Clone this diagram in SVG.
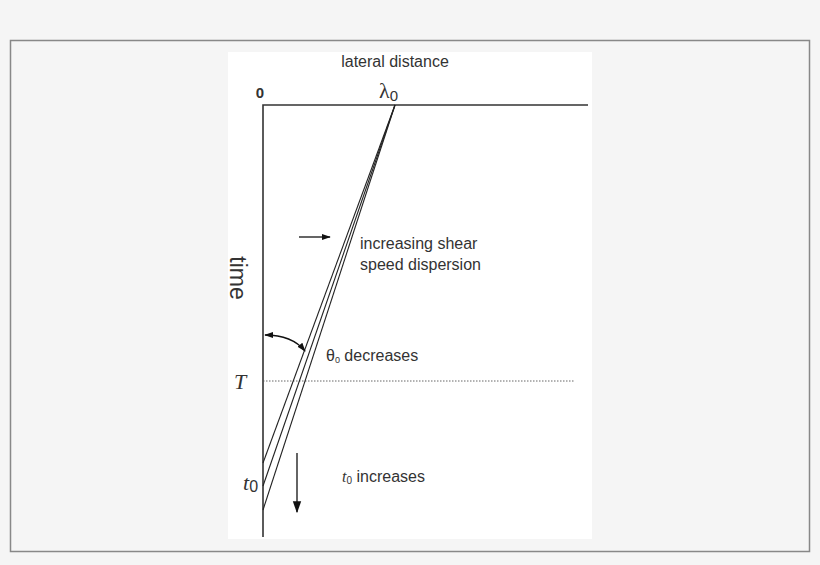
<svg xmlns="http://www.w3.org/2000/svg" width="820" height="565" viewBox="0 0 820 565">
<style>
.ax{stroke:#333;stroke-width:1.6;fill:none}
.ln{stroke:#222;stroke-width:1.1;fill:none}
.sans{font-family:"Liberation Sans",Arial,sans-serif;fill:#333}
.serif{font-family:"Liberation Serif","Times New Roman",serif;fill:#333}
</style>
<defs>
<marker id="ah" viewBox="0 0 10 10" refX="9" refY="5" markerWidth="9" markerHeight="9" orient="auto-start-reverse" markerUnits="userSpaceOnUse">
<path d="M0,1.5 L10,5 L0,8.5 Z" fill="#111"/>
</marker>
<marker id="ahl" viewBox="0 0 10 10" refX="9" refY="5" markerWidth="12" markerHeight="12" orient="auto" markerUnits="userSpaceOnUse">
<path d="M0,1.5 L10,5 L0,8.5 Z" fill="#111"/>
</marker>
</defs>
<rect x="0" y="0" width="820" height="565" fill="#f5f5f5"/>
<rect x="10.5" y="40.5" width="799" height="511" fill="#f5f5f5" stroke="#888" stroke-width="1.5"/>
<rect x="228" y="52" width="364" height="487" fill="#fff"/>
<g id="axes">
<path class="ax" d="M263,537 L263,105 L588,105"/>
<line x1="263" y1="381" x2="575" y2="381" stroke="#555" stroke-width="0.9" stroke-dasharray="1.5,1.5"/>
</g>
<g id="connectors">
<line class="ln" x1="395" y1="105" x2="263" y2="463"/>
<line class="ln" x1="395" y1="105" x2="263" y2="486"/>
<line class="ln" x1="395" y1="105" x2="263" y2="510"/>
<line x1="299" y1="237" x2="330" y2="237" stroke="#111" stroke-width="1.3" marker-end="url(#ah)"/>
<path d="M265,335 Q292,335 305,351" stroke="#111" stroke-width="1.3" fill="none" marker-start="url(#ah)" marker-end="url(#ah)"/>
<line x1="297" y1="453" x2="297" y2="512" stroke="#111" stroke-width="1.3" marker-end="url(#ahl)"/>
</g>
<g id="labels">
<text class="sans" x="395" y="67" font-size="16" text-anchor="middle">lateral distance</text>
<text class="sans" x="260" y="98" font-size="15" font-weight="bold" text-anchor="middle">0</text>
<text class="serif" x="379" y="98" font-size="22">λ<tspan class="sans" font-size="15" dy="3">0</tspan></text>
<text class="sans" x="230" y="278" font-size="23" text-anchor="middle" transform="rotate(90 230 278)">time</text>
<text class="serif" x="240" y="389" font-size="22" font-style="italic" text-anchor="middle">T</text>
<text class="serif" x="243" y="490" font-size="22" font-style="italic">t<tspan class="sans" font-style="normal" font-size="16" dy="2">0</tspan></text>
<text class="sans" x="360" y="249" font-size="16">increasing shear</text>
<text class="sans" x="360" y="270" font-size="16">speed dispersion</text>
<text class="sans" x="326" y="361" font-size="16">θ<tspan font-size="9" dy="2">0</tspan><tspan dy="-2"> decreases</tspan></text>
<text class="sans" x="342" y="482" font-size="16"><tspan font-family="Liberation Serif" font-style="italic">t</tspan><tspan font-size="10" dy="2">0</tspan><tspan dy="-2"> increases</tspan></text>
</g>
</svg>
